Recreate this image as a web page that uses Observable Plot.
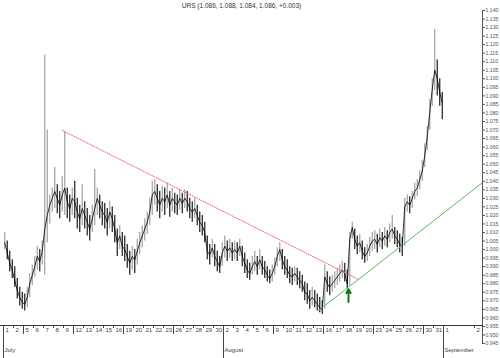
<!DOCTYPE html>
<html><head><meta charset="utf-8">
<script src="https://cdn.jsdelivr.net/npm/d3@7"></script>
<script src="https://cdn.jsdelivr.net/npm/@observablehq/plot@0.6"></script>
<style>html,body{margin:0;padding:0;background:#fff} svg{display:block}</style>
</head><body><div id="chart"></div>
<script>
const title = "URS (1.086, 1.088, 1.084, 1.086, +0.003)";

// trading-day labels (Jul 1 .. Sep 2, 2010)
const dayLabels = ["1","2","5","6","7","8","9","12","13","14","15","16","19","20","21","22","23","26","27","28","29","30",
  "2","3","4","5","6","9","10","11","12","13","16","17","18","19","20","23","24","25","26","27","30","31",
  "1","2"];
const dayPos = [0,1,2,3,4,5,6,7,8,9,10,11,12,13,14,15,16,17,18,19,20,21,22,23,24,25,26,27,28,29,30,31,32,33,34,35,36,37,38,39,40,41,42,43,44,47.1];
const weekStarts = [2,7,12,17,22,27,32,37,42];
const monthLabels = ["July","August","September"];
const monthPos = [0,22,44];

// intraday bars, 4 per trading day (close / high / low)
const closeV = [
 1.004,0.998,0.992,0.988, 0.982,0.976,0.972,0.969, 0.968,0.972,0.980,0.985, 0.990,0.996,0.993,0.999,
 1.012,1.020,1.026,1.030, 1.034,1.030,1.026,1.032, 1.036,1.028,1.024,1.030, 1.028,1.022,1.018,1.024,
 1.020,1.016,1.012,1.018, 1.024,1.030,1.026,1.022, 1.020,1.016,1.022,1.018, 1.012,1.004,1.008,1.002,
 1.000,0.996,0.992,0.996, 0.994,0.999,1.004,1.008, 1.012,1.016,1.022,1.032, 1.034,1.030,1.026,1.030,
 1.028,1.032,1.026,1.030, 1.028,1.026,1.030,1.027, 1.030,1.028,1.024,1.022, 1.024,1.020,1.016,1.014,
 1.010,0.999,0.997,1.001, 0.996,0.993,0.990,0.998, 1.002,0.999,1.001,0.998, 1.000,0.998,1.002,0.996,
 0.992,0.988,0.986,0.990, 0.993,0.990,0.994,0.990, 0.988,0.985,0.983,0.986, 0.990,0.996,1.000,0.994,
 0.990,0.988,0.985,0.984, 0.986,0.984,0.982,0.980, 0.975,0.974,0.970,0.972, 0.970,0.968,0.966,0.965,
 0.984,0.980,0.978,0.980, 0.982,0.984,0.986,0.988, 0.986,0.980,1.006,1.013, 1.006,1.002,1.004,0.999,
 0.996,0.998,1.002,1.005, 1.006,1.003,1.007,1.005, 1.008,1.006,1.010,1.012, 1.008,1.006,1.003,1.002,
 1.025,1.028,1.026,1.030, 1.034,1.036,1.041,1.046, 1.055,1.066,1.080,1.094, 1.105,1.100,1.092,1.086
];
const hiV = [
 1.010,1.005,0.999,0.994, 0.990,0.983,0.978,0.975, 0.974,0.978,0.986,0.991, 0.996,1.002,1.000,1.005,
 1.114,1.070,1.032,1.036, 1.048,1.038,1.034,1.043, 1.069,1.036,1.032,1.036, 1.040,1.030,1.026,1.038,
 1.028,1.024,1.020,1.026, 1.047,1.036,1.032,1.028, 1.027,1.024,1.028,1.025, 1.020,1.012,1.014,1.010,
 1.008,1.003,0.999,1.002, 1.000,1.006,1.010,1.014, 1.018,1.022,1.030,1.040, 1.041,1.038,1.034,1.037,
 1.036,1.039,1.034,1.036, 1.033,1.032,1.035,1.033, 1.035,1.034,1.030,1.028, 1.030,1.026,1.022,1.020,
 1.016,1.008,1.003,1.006, 1.003,0.999,0.996,1.004, 1.008,1.005,1.006,1.004, 1.005,1.004,1.006,1.002,
 0.998,0.994,0.992,0.996, 0.999,0.996,1.000,0.996, 0.993,0.990,0.988,0.991, 0.995,1.001,1.004,1.000,
 0.996,0.994,0.990,0.989, 0.990,0.989,0.987,0.985, 0.981,0.980,0.976,0.978, 0.976,0.974,0.972,0.970,
 0.991,0.987,0.984,0.985, 0.987,0.989,0.991,0.993, 0.992,0.988,1.010,1.016, 1.012,1.008,1.009,1.005,
 1.001,1.003,1.007,1.010, 1.011,1.009,1.012,1.010, 1.013,1.011,1.015,1.020, 1.013,1.011,1.009,1.007,
 1.030,1.032,1.031,1.034, 1.039,1.041,1.046,1.052, 1.062,1.072,1.088,1.100, 1.129,1.111,1.100,1.092
];
const loV = [
 1.000,0.994,0.987,0.983, 0.978,0.971,0.967,0.965, 0.964,0.966,0.972,0.979, 0.984,0.988,0.987,0.991,
 0.985,1.004,1.015,1.022, 1.024,1.021,1.018,1.022, 1.020,1.018,1.016,1.020, 1.018,1.012,1.010,1.014,
 1.012,1.008,1.005,1.010, 1.014,1.020,1.018,1.014, 1.012,1.008,1.012,1.010, 1.004,0.996,1.000,0.996,
 0.993,0.989,0.985,0.988, 0.986,0.991,0.997,1.001, 1.005,1.009,1.014,1.020, 1.026,1.022,1.018,1.022,
 1.020,1.024,1.019,1.022, 1.021,1.020,1.023,1.021, 1.024,1.022,1.018,1.016, 1.018,1.014,1.010,1.008,
 1.004,0.994,0.991,0.995, 0.990,0.987,0.986,0.990, 0.995,0.993,0.995,0.993, 0.994,0.993,0.996,0.990,
 0.986,0.983,0.982,0.985, 0.987,0.985,0.988,0.985, 0.983,0.981,0.980,0.981, 0.985,0.990,0.993,0.988,
 0.985,0.983,0.980,0.979, 0.981,0.979,0.977,0.975, 0.970,0.968,0.965,0.967, 0.966,0.964,0.963,0.962,
 0.965,0.975,0.973,0.975, 0.977,0.979,0.981,0.983, 0.981,0.977,0.979,1.006, 1.000,0.997,0.998,0.994,
 0.992,0.993,0.996,0.999, 1.000,0.998,1.001,1.000, 1.002,1.001,1.004,1.006, 1.003,1.001,0.998,0.996,
 1.002,1.022,1.021,1.024, 1.029,1.031,1.035,1.040, 1.048,1.058,1.070,1.084, 1.093,1.090,1.084,1.076
];

// trend lines (day index, price)
const resistance = [{i: 5.9, v: 1.0697}, {i: 35.5, v: 0.9825}];
const support = [{i: 31.5, v: 0.9643}, {i: 47.9, v: 1.0392}];
const arrowMark = [{i: 34.5, from: 0.9693, to: 0.9768}];

const yTicks = d3.range(0, 40).map(k => +(0.945 + 0.005 * k).toFixed(3));

const bars = closeV.map((c, k) => ({
  i: Math.floor(k / 4) + (k % 4) / 4 + 0.125,
  c, hi: hiV[k], lo: loV[k],
  col: (k === 0 || c >= closeV[k - 1]) ? "#a0a0a0" : "#1a1a1a"
}));

const dayMap = new Map(dayPos.map((p, j) => [p, dayLabels[j]]));
const monthMap = new Map(monthPos.map((p, j) => [p, monthLabels[j]]));

const chart = Plot.plot({
  width: 500, height: 358,
  marginLeft: 0, marginRight: 18, marginTop: 10, marginBottom: 15,
  style: {fontFamily: "'Liberation Sans', Arial, sans-serif", fontSize: "6px", background: "#fff"},
  x: {domain: [-0.3, 47.9], axis: null},
  y: {domain: [0.945, 1.140], axis: null},
  color: {type: "identity"},
  marks: [
    Plot.ruleX(bars, {x: "i", y1: "lo", y2: "hi", stroke: "col", strokeWidth: 1.2}),
    Plot.line(bars, {x: "i", y: "c", stroke: "#000", strokeWidth: 0.8}),
    Plot.line(resistance, {x: "i", y: "v", stroke: "#f06060", strokeWidth: 1, strokeDasharray: "1,1.5"}),
    Plot.line(support, {x: "i", y: "v", stroke: "#5cb85c", strokeWidth: 1}),
    Plot.arrow(arrowMark, {x1: "i", x2: "i", y1: "from", y2: "to", stroke: "#0a7a0a", strokeWidth: 2, headLength: 5}),
    Plot.frame({anchor: "right", stroke: "#555", strokeDasharray: "1,1"}),
    Plot.axisY(yTicks, {anchor: "right", tickSize: 2, tickPadding: 1, tickFormat: d3.format(".3f"), color: "#555", fontSize: 5.2, label: null}),
    Plot.frame({anchor: "bottom", dy: -18, stroke: "#333"}),
    Plot.axisX(dayPos, {anchor: "bottom", dy: -18, tickSize: 3, tickFormat: () => "", color: "#444", label: null}),
    Plot.axisX(weekStarts, {anchor: "bottom", dy: -18, tickSize: 9, tickFormat: () => "", color: "#444", label: null}),
    Plot.axisX(monthPos, {anchor: "bottom", dy: -18, tickSize: 33, tickFormat: () => "", color: "#444", label: null}),
    Plot.axisX(dayPos, {anchor: "bottom", dy: -18, tickSize: 0, tickPadding: 2, dx: 2, textAnchor: "start", tickFormat: d => dayMap.get(d), color: "#444", fontSize: 6, label: null}),
    Plot.axisX(monthPos, {anchor: "bottom", dy: -18, tickSize: 0, tickPadding: 22, dx: 1, textAnchor: "start", tickFormat: d => monthMap.get(d), color: "#444", fontSize: 6, label: null}),
    Plot.text([title], {text: d => d, frameAnchor: "top", lineAnchor: "middle", dy: -5, fontSize: 6.5, fill: "#333"})
  ]
});
document.getElementById("chart").appendChild(chart);
</script>
</body></html>
